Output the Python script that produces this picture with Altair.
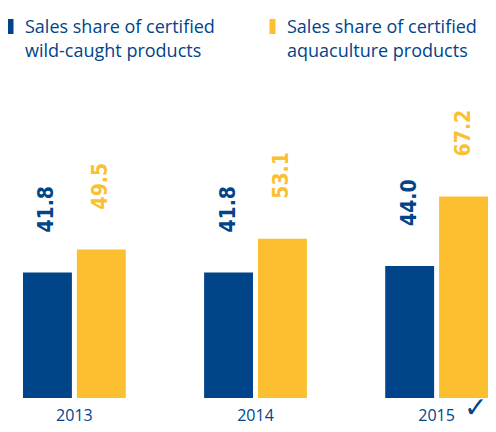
import altair as alt
import pandas as pd

years = ["2013", "2014", "2015"]
series = ["Sales share of certified wild-caught products",
          "Sales share of certified aquaculture products"]
wild_caught = [41.8, 41.8, 44.0]
aquaculture = [49.5, 53.1, 67.2]

BLUE = "#00448A"
YELLOW = "#FBBF30"

rows = []
for i, yr in enumerate(years):
    rows.append({"year": yr, "series": series[0], "value": wild_caught[i]})
    rows.append({"year": yr, "series": series[1], "value": aquaculture[i]})
df = pd.DataFrame(rows)

x_enc = alt.X(
    "year:N", sort=years,
    scale=alt.Scale(paddingInner=0.4325, paddingOuter=0.0414, align=1),
    axis=alt.Axis(title=None, labelAngle=0, ticks=False, domain=False,
                  labelPadding=9, labelFont="Open Sans", labelFontSize=16,
                  labelColor=BLUE, grid=False),
)
xo_enc = alt.XOffset("series:N", sort=series,
                     scale=alt.Scale(paddingInner=0.0926, paddingOuter=0))
y_enc = alt.Y("value:Q", scale=alt.Scale(domain=[0, 125.3]), axis=None)
color_enc = alt.Color(
    "series:N", sort=series,
    scale=alt.Scale(domain=series, range=[BLUE, YELLOW]),
    legend=alt.Legend(
        title=None, orient="none", legendX=-2, legendY=16,
        direction="horizontal",
        symbolType="M-1,-1.87L-0.2,-1.87L-0.2,0.13L-1,0.13Z",
        symbolSize=225, symbolStrokeWidth=0, symbolOpacity=1,
        labelFont="Open Sans", labelFontSize=18, labelColor=BLUE,
        labelLimit=400, labelOffset=1, columnPadding=53,
        labelBaseline="alphabetic",
        labelExpr="[substring(datum.label, 0, 24), substring(datum.label, 25)]",
    ),
)

base = alt.Chart(df)
bars = base.mark_bar().encode(x=x_enc, xOffset=xo_enc, y=y_enc, color=color_enc)
labels = base.mark_text(
    angle=270, align="left", baseline="middle", dx=40,
    font="Liberation Sans Narrow, DejaVu Sans Condensed, sans-serif",
    fontSize=21, fontWeight="bold",
).encode(x=x_enc, xOffset=xo_enc, y=y_enc, color=color_enc,
         text=alt.Text("value:Q", format=".1f"))

check = alt.Chart(pd.DataFrame({"year": [years[-1]]})).mark_text(
    text="\u2713", font="DejaVu Sans", fontSize=28, color=BLUE,
    align="center", baseline="alphabetic", dx=39, dy=19,
).encode(x=alt.X("year:N", sort=years), y=alt.datum(0))

chart = alt.layer(bars, labels, check).properties(
    width=480, height=390,
    padding={"left": 0, "top": 0, "right": 0, "bottom": 26},
    autosize=alt.AutoSizeParams(type="none"),
).configure(
    style={"guide-label": {"lineHeight": 24}}
).configure_view(stroke=None)

chart.save("out.html", embed_options={"renderer": "svg", "actions": False})
